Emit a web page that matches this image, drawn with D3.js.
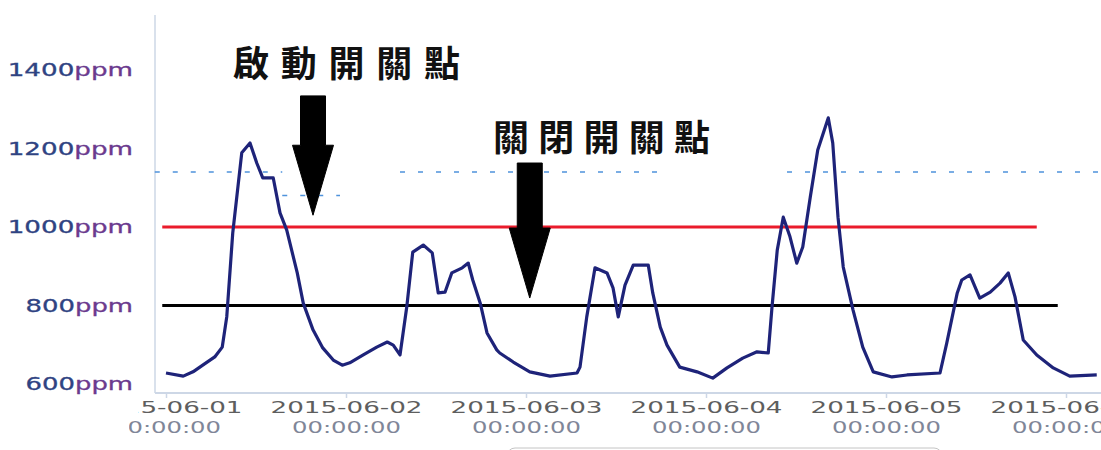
<!DOCTYPE html>
<html>
<head>
<meta charset="utf-8">
<script src="https://cdn.jsdelivr.net/npm/d3@7"></script>
<style>
    body { margin: 0; background: #ffffff; }
    svg  { display: block; }
</style>
</head>
<body>
<svg id="co2_plot" width="1101" height="450"></svg>
<script>
// hours since 2015-06-01 00:00 and the CO2 reading at that moment
const hours = [0, 2.3, 3.6, 4.9, 6.5, 7.5, 8.1, 8.9, 10.1, 11.2,
               12.1, 12.9, 14.3, 15.2, 16.1, 17.5, 18.3, 19.6, 20.9, 22.3,
               23.5, 24.5, 26.3, 28.1, 29.5, 30.3, 31.2, 32.1, 32.9, 34.3,
               35.5, 36.3, 37.2, 38.1, 39.5, 40.3, 40.9, 41.9, 42.8, 44.1,
               44.5, 46.3, 48.5, 51.2, 54.8, 55.2, 56.1, 57.2, 58.8, 59.6,
               60.3, 61.2, 62.3, 64.3, 64.9, 65.9, 66.8, 68.5, 70.8, 72.9,
               74.8, 76.9, 78.8, 80.3, 80.8, 81.5, 82.3, 83.2, 84.1, 84.9,
               85.9, 86.9, 88.3, 88.9, 89.6, 90.3, 91.6, 92.9, 94.3, 96.8,
               98.8, 103.2, 104.1, 105.5, 106.1, 107.2, 108.5, 109.9, 111.2, 112.3,
               113.2, 114.3, 116.1, 118.3, 120.5, 124.1];
const ppm   = [628, 620, 631, 648, 669, 694, 771, 985, 1189, 1214,
               1163, 1125, 1125, 1036, 992, 883, 806, 738, 692, 661,
               648, 654, 674, 694, 707, 699, 674, 796, 936, 954,
               934, 832, 834, 883, 896, 908, 865, 806, 730, 687,
               679, 656, 631, 620, 628, 643, 771, 896, 883, 845,
               771, 852, 903, 903, 832, 745, 699, 643, 631, 615,
               641, 666, 682, 679, 796, 941, 1025, 975, 908, 949,
               1076, 1196, 1278, 1214, 1025, 898, 789, 694, 631, 618,
               623, 628, 704, 832, 865, 878, 819, 834, 857, 883,
               822, 712, 674, 641, 620, 623];

const yTicks     = [600, 800, 1000, 1200, 1400];
const dayTicks   = ["2015-06-01", "2015-06-02", "2015-06-03", "2015-06-04", "2015-06-05", "2015-06-06"];

// threshold lines: value, start hour, end hour
const thresholdValues = [1000, 800];
const thresholdStart  = [-0.5, -0.5];
const thresholdEnd    = [116.1, 118.9];

// dotted reference line pieces: value, start hour, end hour
const dashValues = [1140, 1140, 1140, 1080];
const dashStart  = [-1.5, 31.2, 82.8, 15.5];
const dashEnd    = [15.5, 65.9, 124.6, 23.2];

// annotations: label text, arrow hour, arrow tip value, arrow top value
const noteLabels    = ["啟動開關點", "關閉開關點"];
const arrowHours    = [19.6, 48.5];
const arrowTipPpm   = [1030, 819];
const arrowTopPpm   = [1334, 1163];

const start  = new Date(2015, 5, 1, 0, 0);
const toDate = h => new Date(start.getTime() + h * 3600 * 1000);
const series = hours.map((h, i) => [toDate(h), ppm[i]]);

const svg = d3.select("#co2_plot");

const x = d3.scaleTime()
    .domain([start, new Date(2015, 5, 6, 0, 0)])
    .range([166, 1066]);

const y = d3.scaleLinear()
    .domain([600, 1400])
    .range([384, 70]);

// the following code is used to draw the frame lines
svg.append("line")
    .attr("x1", 155).attr("x2", 155)
    .attr("y1", 15).attr("y2", 393)
    .attr("stroke", "#cdd7e6").attr("stroke-width", 1.5);

svg.append("line")
    .attr("x1", 155).attr("x2", 1101)
    .attr("y1", 393).attr("y2", 393)
    .attr("stroke", "#cdd7e6").attr("stroke-width", 2);

// bottom x axis with two-line labels, left end cut off like the capture
const clip = svg.append("clipPath").attr("id", "xclip");
clip.append("rect").attr("x", 138).attr("y", 380).attr("width", 1000).attr("height", 36);
clip.append("rect").attr("x", 129).attr("y", 416).attr("width", 1000).attr("height", 34);

const axisX = d3.axisBottom(x)
    .tickValues(dayTicks.map(d => d3.timeParse("%Y-%m-%d")(d)))
    .tickSize(5)
    .tickFormat("");

const gx = svg.append("g")
    .attr("clip-path", "url(#xclip)")
    .append("g")
    .attr("transform", "translate(0,393)")
    .call(axisX);
gx.select(".domain").remove();
gx.selectAll(".tick line").attr("stroke", "#cdd7e6").attr("stroke-width", 1.5);

gx.selectAll(".tick").each(function(d, i)
{
    const t = d3.select(this);
    t.append("text")
        .attr("y", 20)
        .attr("text-anchor", "middle")
        .attr("font-family", "DejaVu Sans")
        .attr("font-size", 16)
        .attr("fill", "#5e5e5e")
        .attr("textLength", 152)
        .attr("lengthAdjust", "spacingAndGlyphs")
        .text(dayTicks[i]);
    t.append("text")
        .attr("y", 40)
        .attr("text-anchor", "middle")
        .attr("font-family", "DejaVu Sans")
        .attr("font-size", 16)
        .attr("fill", "#7f8698")
        .attr("textLength", 109)
        .attr("lengthAdjust", "spacingAndGlyphs")
        .text("00:00:00");
});

// left y axis labels
const axisY = d3.axisLeft(y).tickValues(yTicks).tickSize(0).tickFormat("");
const gy = svg.append("g").attr("transform", "translate(133,0)").call(axisY);
gy.select(".domain").remove();
gy.selectAll(".tick").append("text")
    .attr("text-anchor", "end")
    .attr("dy", "0.35em")
    .attr("font-family", "DejaVu Sans")
    .attr("font-size", 17)
    .attr("stroke-width", 0.3)
    .attr("textLength", d => String(d).length * 17.9 + 3 * 17.9)
    .attr("lengthAdjust", "spacingAndGlyphs")
    .each(function(d)
    {
        const t = d3.select(this);
        t.append("tspan").attr("fill", "#2f4382").attr("stroke", "#2f4382").text(d);
        t.append("tspan").attr("fill", "#6b3a8e").attr("stroke", "#6b3a8e").text("ppm");
    });

// dotted reference pieces
svg.selectAll(".dash_ref").data(dashValues)
    .enter().append("line")
    .attr("class", "dash_ref")
    .attr("x1", (d, i) => x(toDate(dashStart[i])))
    .attr("x2", (d, i) => x(toDate(dashEnd[i])))
    .attr("y1", d => y(d))
    .attr("y2", d => y(d))
    .attr("stroke", "#4f93dc")
    .attr("stroke-width", 1.5)
    .attr("stroke-dasharray", "5,13");

// threshold lines
const thresholdColors = ["#ea1b2b", "#000000"];
svg.selectAll(".threshold").data(thresholdValues)
    .enter().append("line")
    .attr("class", "threshold")
    .attr("x1", (d, i) => x(toDate(thresholdStart[i])))
    .attr("x2", (d, i) => x(toDate(thresholdEnd[i])))
    .attr("y1", d => y(d))
    .attr("y2", d => y(d))
    .attr("stroke", (d, i) => thresholdColors[i])
    .attr("stroke-width", 3.2);

// the CO2 series
const line = d3.line()
    .x(d => x(d[0]))
    .y(d => y(d[1]))
    .curve(d3.curveLinear);

svg.append("path")
    .datum(series)
    .attr("fill", "none")
    .attr("stroke", "#1e2379")
    .attr("stroke-width", 3.2)
    .attr("stroke-linejoin", "round")
    .attr("d", line);

// the following code is used to draw the arrows
const arrowPath = (cx, tipY, topY) =>
{
    const headLen = 70, shaft = 12.5, head = 20.5;
    const hy = tipY - headLen;
    return `M${cx - shaft},${topY} L${cx + shaft},${topY} L${cx + shaft},${hy}` +
           ` L${cx + head},${hy} L${cx},${tipY} L${cx - head},${hy} L${cx - shaft},${hy} Z`;
};

svg.selectAll(".arrow").data(arrowHours)
    .enter().append("path")
    .attr("class", "arrow")
    .attr("fill", "#000000")
    .attr("stroke", "#000000")
    .attr("stroke-width", 1)
    .attr("stroke-linejoin", "round")
    .attr("d", (d, i) => arrowPath(x(toDate(d)), y(arrowTipPpm[i]), y(arrowTopPpm[i])));

// annotation labels
const noteX = [233, 493];
const noteY = [77, 151];
svg.selectAll(".note").data(noteLabels)
    .enter().append("text")
    .attr("class", "note")
    .attr("x", (d, i) => noteX[i])
    .attr("y", (d, i) => noteY[i])
    .attr("font-family", "Noto Sans CJK TC")
    .attr("font-weight", 700)
    .attr("font-size", 36)
    .attr("textLength", (d, i) => i === 0 ? 227 : 217)
    .attr("lengthAdjust", "spacing")
    .attr("fill", "#111111")
    .text(d => d);

// faint box edge at the bottom of the capture
svg.append("rect")
    .attr("x", 507).attr("y", 448)
    .attr("width", 435).attr("height", 20)
    .attr("rx", 8)
    .attr("fill", "none")
    .attr("stroke", "#c4c4c4")
    .attr("stroke-width", 1);
</script>
</body>
</html>
